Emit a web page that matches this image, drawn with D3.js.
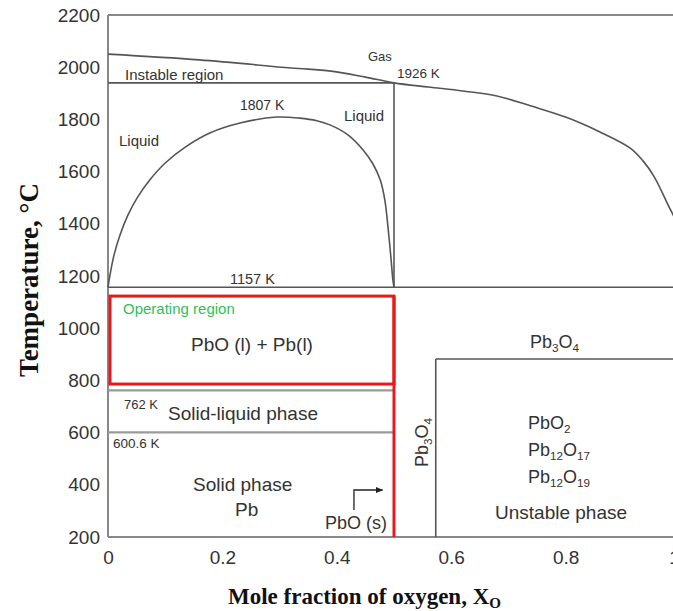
<!DOCTYPE html>
<html>
<head>
<meta charset="utf-8">
<script src="https://cdn.jsdelivr.net/npm/d3@7"></script>
<style>
  html, body { margin: 0; padding: 0; background: #fff; }
  svg { display: block; }
  text { font-family: "Liberation Sans", Arial, sans-serif; fill: #333; }
  .title { font-family: "Liberation Serif", "Times New Roman", serif; font-weight: bold; fill: #111; }
</style>
</head>
<body>
<svg id="chart" width="673" height="611"></svg>
<script>
// ---------- data ----------
const xTicks = [0, 0.2, 0.4, 0.6, 0.8, 1];
const xTickLabels = ["0", "0.2", "0.4", "0.6", "0.8", "1"];
const yTicks = [200, 400, 600, 800, 1000, 1200, 1400, 1600, 1800, 2000, 2200];

// gas (upper) boundary
const gasX = [0, 0.16, 0.32, 0.39, 0.45, 0.5, 0.56, 0.62, 0.68, 0.74, 0.80, 0.86, 0.913, 0.935, 0.955, 0.983, 1.0];
const gasT = [2050, 2028, 1997, 1985, 1962, 1940, 1924, 1909, 1890, 1851, 1809, 1752, 1690, 1642, 1580, 1455, 1385];

// liquid miscibility dome
const domeX = [0, 0.0035, 0.0105, 0.021, 0.035, 0.052, 0.073, 0.100, 0.135, 0.178, 0.231, 0.295,
               0.335, 0.365, 0.388, 0.42, 0.446, 0.463, 0.476, 0.484, 0.490, 0.495, 0.498, 0.5];
const domeT = [1157, 1204, 1280, 1357, 1434, 1503, 1568, 1633, 1694, 1748, 1786, 1809,
               1805, 1795, 1779, 1740, 1683, 1630, 1568, 1491, 1376, 1261, 1185, 1157];

// characteristic levels / compositions
const xPbO = 0.5;          // PbO composition
const xPb3O4 = 0.573;      // Pb3O4 composition
const tInstable = 1940;
const tMonotectic = 1157;
const tPb3O4 = 882;
const tSolidLiquid = 762;
const tSolid = 600.6;
const opRegion = { x0: 0, x1: 0.5, t0: 786, t1: 1123 };
const arrowPts = [[0.43, 303], [0.43, 380], [0.48, 380]];

// ---------- scales ----------
const W = 673, H = 611;
const x = d3.scaleLinear().domain([0, 1]).range([108, 680]);
const y = d3.scaleLinear().domain([200, 2200]).range([537, 15]);

const svg = d3.select("#chart");
svg.append("defs").append("marker")
  .attr("id", "arr").attr("viewBox", "0 0 10 10").attr("refX", 9).attr("refY", 5)
  .attr("markerWidth", 6).attr("markerHeight", 6).attr("orient", "auto")
  .append("path").attr("d", "M0,1 L10,5 L0,9 Z").attr("fill", "#222");

const g = svg.append("g");
const lineColor = "#555";

function hline(t, xa, xb, color, w) {
  g.append("line").attr("x1", x(xa)).attr("x2", xb === null ? W : x(xb))
    .attr("y1", y(t)).attr("y2", y(t)).attr("stroke", color).attr("stroke-width", w);
}
function vline(xv, ta, tb, color, w) {
  g.append("line").attr("x1", x(xv)).attr("x2", x(xv))
    .attr("y1", y(ta)).attr("y2", y(tb)).attr("stroke", color).attr("stroke-width", w);
}

// frame
hline(2200, 0, null, "#888", 2);
hline(200, 0, null, "#888", 2);
vline(0, 200, 2200, "#888", 2);

// axes labels (no tick marks)
const yAxis = d3.axisLeft(y).tickValues(yTicks).tickSize(0).tickPadding(8).tickFormat(d3.format("d"));
const ya = svg.append("g").attr("transform", `translate(${x(0)},0)`).call(yAxis);
ya.select(".domain").remove();
ya.selectAll("text").style("font-size", "19px").style("fill", "#333")
  .style("font-family", '"Liberation Sans", Arial, sans-serif');

const xAxis = d3.axisBottom(x).tickValues(xTicks).tickSize(0).tickPadding(14)
  .tickFormat((d, i) => xTickLabels[i]);
const xa = svg.append("g").attr("transform", `translate(0,${y(200)})`).call(xAxis);
xa.select(".domain").remove();
xa.selectAll("text").style("font-size", "19px").style("fill", "#333")
  .style("font-family", '"Liberation Sans", Arial, sans-serif')
  .attr("dx", d => d === 1 ? -6 : 0);

// phase lines
g.append("path").datum(gasX.map((v, i) => [v, gasT[i]]))
  .attr("d", d3.line().x(d => x(d[0])).y(d => y(d[1])).curve(d3.curveCatmullRom.alpha(0.5)))
  .attr("fill", "none").attr("stroke", lineColor).attr("stroke-width", 1.6);
g.append("path").datum(domeX.map((v, i) => [v, domeT[i]]))
  .attr("d", d3.line().x(d => x(d[0])).y(d => y(d[1])).curve(d3.curveCatmullRom.alpha(0.5)))
  .attr("fill", "none").attr("stroke", lineColor).attr("stroke-width", 1.6);

hline(tInstable, 0, xPbO, lineColor, 1.6);
vline(xPbO, tInstable, tMonotectic, lineColor, 1.6);
hline(tMonotectic, 0, null, lineColor, 1.6);
hline(tSolidLiquid, 0, xPbO, "#9a9a9a", 2.2);
hline(tSolid, 0, xPbO, "#9a9a9a", 2.2);
vline(xPb3O4, 200, tPb3O4, lineColor, 1.6);
hline(tPb3O4, xPb3O4, null, lineColor, 1.6);

// operating region (red)
g.append("rect")
  .attr("x", x(opRegion.x0) + 2).attr("y", y(opRegion.t1))
  .attr("width", x(opRegion.x1) - x(opRegion.x0) - 2)
  .attr("height", y(opRegion.t0) - y(opRegion.t1))
  .attr("fill", "none").attr("stroke", "#e8191c").attr("stroke-width", 3);
vline(xPbO, 200, opRegion.t1, "#e8191c", 3);

// arrow
g.append("path").datum(arrowPts).attr("d", d3.line().x(d => x(d[0])).y(d => y(d[1])))
  .attr("fill", "none").attr("stroke", "#222").attr("stroke-width", 1.3)
  .attr("marker-end", "url(#arr)");

// ---------- annotations ----------
function label(txt, px, py, size, opts = {}) {
  const t = svg.append("text").attr("x", px).attr("y", py)
    .style("font-size", size + "px")
    .attr("text-anchor", opts.anchor || "start");
  if (opts.fill) t.style("fill", opts.fill);
  if (opts.rotate) t.attr("transform", `rotate(${opts.rotate},${px},${py})`);
  if (Array.isArray(txt)) {
    txt.forEach(part => {
      if (part.sub) {
        t.append("tspan").text(part.sub).style("font-size", (size * 0.65) + "px").attr("dy", size * 0.22);
      } else {
        t.append("tspan").text(part.t).attr("dy", part.after ? -size * 0.22 : 0);
      }
    });
  } else t.text(txt);
  return t;
}
function chem(parts) { // ["Pb","3","O","4"] -> alternating normal/sub
  const out = [];
  parts.forEach((p, i) => {
    if (i % 2 === 0) out.push({ t: p, after: i > 0 });
    else out.push({ sub: p });
  });
  return out;
}

label("Gas", 368, 61, 13);
label("1926 K", 397, 78, 13.5);
label("Instable region", 125, 80, 15);
label("1807 K", 240, 110, 14);
label("Liquid", 119, 146, 15);
label("Liquid", 344, 121, 15);
label("1157 K", 230, 284, 14.5);
label("Operating region", 123, 314, 15, { fill: "#2fbf5a" });
label("PbO (l) + Pb(l)", 191, 351, 19);
label(chem(["Pb", "3", "O", "4"]), 530, 348, 18);
label("762 K", 124, 409, 13);
label("Solid-liquid phase", 168, 420, 19);
label("600.6 K", 113, 448, 13.5);
label("Solid phase", 193, 491, 19);
label("Pb", 235, 516, 19);
label("PbO (s)", 325, 529, 18);
label(chem(["Pb", "3", "O", "4"]), 428, 467, 18, { rotate: -90 });
label(chem(["PbO", "2"]), 528, 429, 18);
label(chem(["Pb", "12", "O", "17"]), 528, 456, 18);
label(chem(["Pb", "12", "O", "19"]), 528, 483, 18);
label("Unstable phase", 495, 519, 19);

// axis titles
svg.append("text").attr("class", "title")
  .attr("transform", "translate(38,280) rotate(-90)")
  .attr("text-anchor", "middle").style("font-size", "27px")
  .text("Temperature, °C");
const xt = svg.append("text").attr("class", "title")
  .attr("x", 228).attr("y", 604).style("font-size", "23px");
xt.append("tspan").text("Mole fraction of oxygen, X");
xt.append("tspan").text("O").style("font-size", "15px").attr("dy", 4);
</script>
</body>
</html>
